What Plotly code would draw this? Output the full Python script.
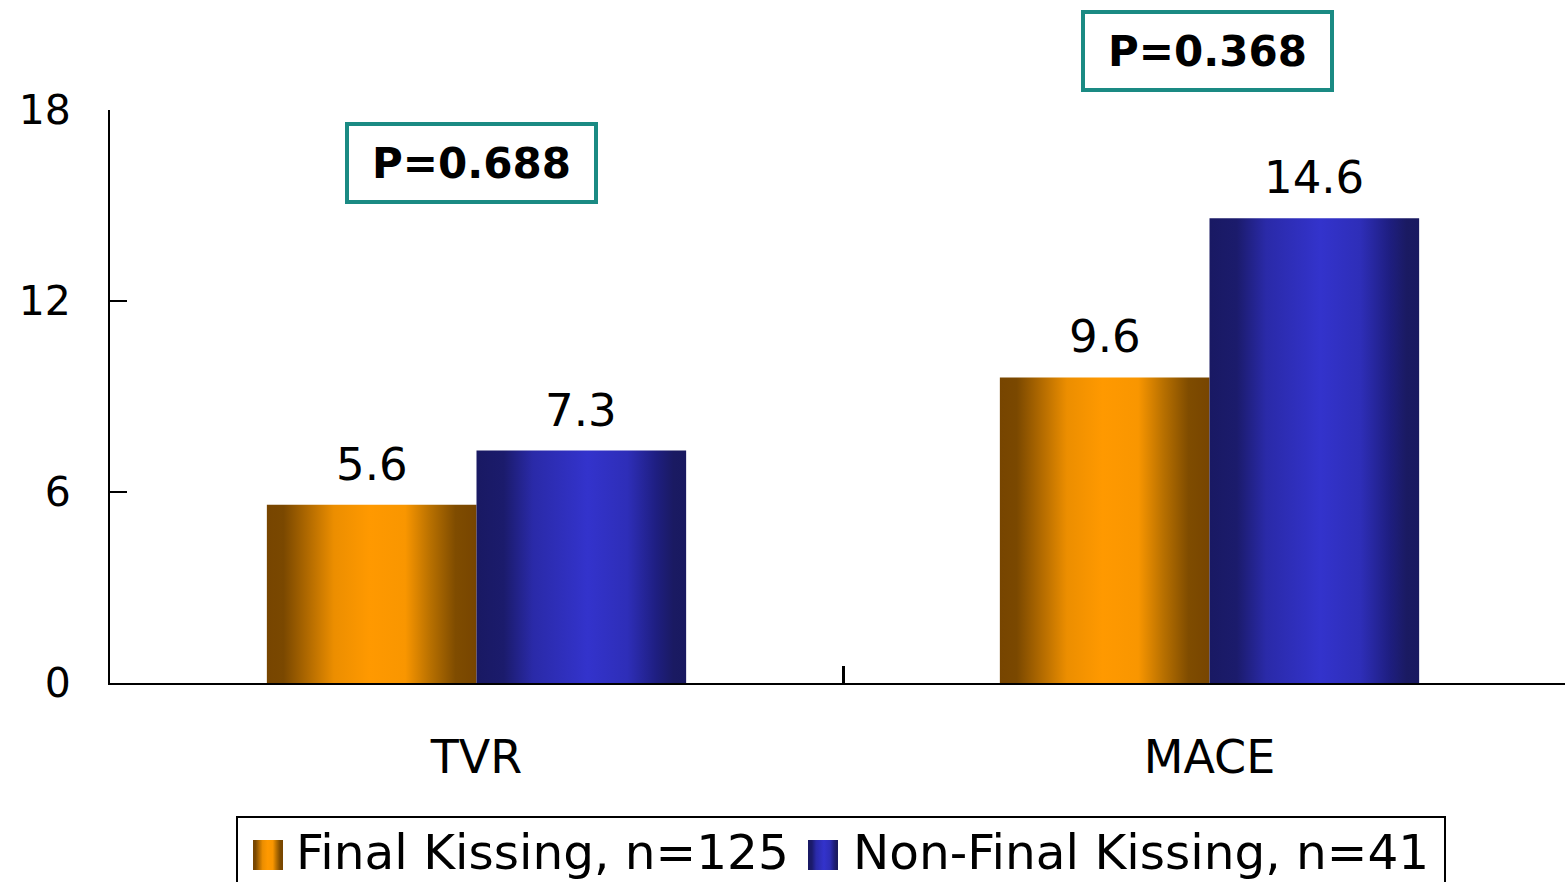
import base64
import plotly.graph_objects as go

# ---- data ----
categories = ["TVR", "MACE"]
final_kissing = [5.6, 9.6]
non_final_kissing = [7.3, 14.6]
p_labels = ["P=0.688", "P=0.368"]
y_ticks = [0, 6, 12, 18]
series_names = ["Final Kissing, n=125", "Non-Final Kissing, n=41"]

# ---- styling ----
W, H = 1565, 882
ML, MR, MT, MB = 110, 0, 110, 199
FONT = "DejaVu Sans"
BAR_W = 0.286
TEAL = "#1a8a83"

orange_scale = [[0.0, "#774500"], [0.08, "#7a4800"], [0.32, "#ec8e00"],
                [0.49, "#ff9900"], [0.66, "#f99600"], [0.78, "#b87000"],
                [0.9, "#7f4c00"], [1.0, "#774500"]]
blue_scale = [[0.0, "#191963"], [0.13, "#1b1b6c"], [0.27, "#2a2aa8"],
              [0.53, "#3333cc"], [0.72, "#2e2eb8"], [0.86, "#1e1e80"],
              [0.94, "#1a1a62"], [1.0, "#191960"]]

PW, PH = W - ML - MR, H - MT - MB


def px_x(p):
    return (p - ML) / PW


def px_y(p):
    return (H - MB - p) / PH


fig = go.Figure()


def add_bar(x0, x1, value, scale, name):
    fig.add_trace(go.Scatter(
        x=[x0, x0, x1, x1, x0], y=[0, value, value, 0, 0],
        mode="lines", fill="toself", line=dict(width=0),
        fillgradient=dict(type="horizontal", colorscale=scale),
        name=name, showlegend=False, hoverinfo="skip",
    ))


for i, cat in enumerate(categories):
    add_bar(i - BAR_W, i, final_kissing[i], orange_scale, series_names[0])
    add_bar(i, i + BAR_W, non_final_kissing[i], blue_scale, series_names[1])

annotations = []
# value labels above the bars
for i in range(len(categories)):
    for xc, v in ((i - BAR_W / 2, final_kissing[i]), (i + BAR_W / 2, non_final_kissing[i])):
        annotations.append(dict(
            x=xc, y=v, xref="x", yref="y", text=str(v), showarrow=False,
            xanchor="center", yanchor="bottom", yshift=12,
            font=dict(family=FONT, size=45, color="black"),
        ))

# p-value boxes (x in data units, y in pixels from the top)
p_pos = [(-0.007, 163), (0.997, 51)]
for (px_, py_), lab in zip(p_pos, p_labels):
    annotations.append(dict(
        x=px_, y=px_y(py_), xref="x", yref="paper", text="<b>%s</b>" % lab,
        showarrow=False, xanchor="center", yanchor="middle",
        font=dict(family=FONT, size=42, color="black"),
        bordercolor=TEAL, borderwidth=4, borderpad=0, bgcolor="white",
        width=245, height=74,
    ))

# legend
legend_text_x = [294, 851]
legend_icon_x = [253, 808]
for tx, name in zip(legend_text_x, series_names):
    annotations.append(dict(
        x=px_x(tx), y=px_y(852), xref="paper", yref="paper", text=name,
        showarrow=False, xanchor="left", yanchor="middle",
        font=dict(family=FONT, size=48.5, color="black"),
    ))


def gradient_svg(scale):
    stops = "".join("<stop offset='%g' stop-color='%s'/>" % (o, c) for o, c in scale)
    svg = ("<svg xmlns='http://www.w3.org/2000/svg' width='30' height='30'>"
           "<defs><linearGradient id='g' x1='0' y1='0' x2='1' y2='0'>%s</linearGradient></defs>"
           "<rect width='30' height='30' fill='url(#g)'/></svg>" % stops)
    return "data:image/svg+xml;base64," + base64.b64encode(svg.encode()).decode()


images = []
for ix, scale in zip(legend_icon_x, (orange_scale, blue_scale)):
    images.append(dict(
        source=gradient_svg(scale), xref="paper", yref="paper",
        x=px_x(ix), y=px_y(840), sizex=30 / PW, sizey=30 / PH,
        xanchor="left", yanchor="top", sizing="stretch", layer="above",
    ))

shapes = [dict(
    type="rect", xref="paper", yref="paper",
    x0=px_x(237), x1=px_x(1445), y0=px_y(817), y1=px_y(900),
    line=dict(color="black", width=2), fillcolor="white", layer="below",
)]

fig.update_layout(
    width=W, height=H,
    margin=dict(l=ML, r=MR, t=MT, b=MB, pad=0),
    paper_bgcolor="white", plot_bgcolor="white",
    showlegend=False,
    annotations=annotations, images=images, shapes=shapes,
    xaxis=dict(
        range=[-0.5, -0.5 + PW / 733.0], showgrid=False, zeroline=False,
        showline=True, linecolor="black", linewidth=2,
        tickmode="array", tickvals=list(range(len(categories))), ticktext=categories,
        ticks="", ticklabelstandoff=33,
        tickfont=dict(family=FONT, size=46, color="black"),
        minor=dict(tickmode="array", tickvals=[0.5], ticks="inside",
                   ticklen=17, tickwidth=3, tickcolor="black"),
        fixedrange=True,
    ),
    yaxis=dict(
        range=[0, 18], showgrid=False, zeroline=False,
        showline=True, linecolor="black", linewidth=2,
        tickmode="array", tickvals=y_ticks,
        ticks="inside", ticklen=17, tickwidth=2, tickcolor="black",
        ticklabelstandoff=29,
        tickfont=dict(family=FONT, size=41, color="black"),
        fixedrange=True,
    ),
)

fig.write_html("out.html")
